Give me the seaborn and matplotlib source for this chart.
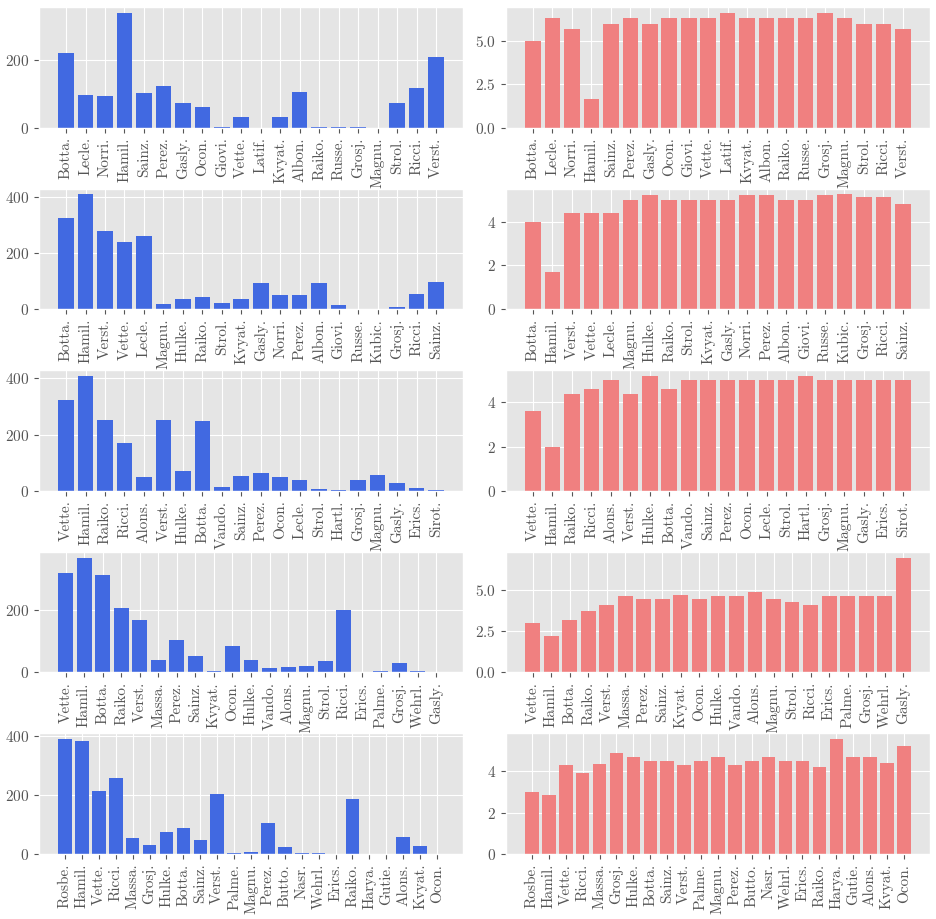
import matplotlib
matplotlib.use('Agg')
import matplotlib.pyplot as plt
import seaborn as sns

plt.style.use('ggplot')
plt.rcParams['font.family'] = ['cmr10', 'DejaVu Serif']
plt.rcParams['mathtext.fontset'] = 'cm'
plt.rcParams['axes.formatter.use_mathtext'] = True
plt.rcParams['font.size'] = 11

# season 1
drivers_1 = ['Botta.', 'Lecle.', 'Norri.', 'Hamil.', 'Sainz.', 'Perez.', 'Gasly.', 'Ocon.',
             'Giovi.', 'Vette.', 'Latif.', 'Kvyat.', 'Albon.', 'Raiko.', 'Russe.', 'Grosj.',
             'Magnu.', 'Strol.', 'Ricci.', 'Verst.']
points_1 = [222, 97, 94, 341, 103, 124, 73, 61, 3, 32, 0, 32, 106, 3, 3, 3, 0, 73, 118, 210]
grid_1 = [5.0, 6.33, 5.67, 1.67, 6.0, 6.33, 6.0, 6.33, 6.33, 6.33, 6.63, 6.33, 6.33, 6.33,
          6.33, 6.63, 6.33, 6.0, 6.0, 5.67]

# season 2
drivers_2 = ['Botta.', 'Hamil.', 'Verst.', 'Vette.', 'Lecle.', 'Magnu.', 'Hulke.', 'Raiko.',
             'Strol.', 'Kvyat.', 'Gasly.', 'Norri.', 'Perez.', 'Albon.', 'Giovi.', 'Russe.',
             'Kubic.', 'Grosj.', 'Ricci.', 'Sainz.']
points_2 = [323, 408, 277, 238, 259, 18, 35, 43, 21, 35, 92, 50, 50, 92, 14, 0, 0, 7, 53, 96]
grid_2 = [4.0, 1.69, 4.38, 4.38, 4.38, 5.0, 5.2, 5.0, 5.0, 5.0, 5.0, 5.2, 5.2, 5.0, 5.0,
          5.2, 5.25, 5.11, 5.11, 4.79]

# season 3
drivers_3 = ['Vette.', 'Hamil.', 'Raiko.', 'Ricci.', 'Alons.', 'Verst.', 'Hulke.', 'Botta.',
             'Vando.', 'Sainz.', 'Perez.', 'Ocon.', 'Lecle.', 'Strol.', 'Hartl.', 'Grosj.',
             'Magnu.', 'Gasly.', 'Erics.', 'Sirot.']
points_3 = [323, 408, 252, 170, 50, 252, 71, 248, 14, 53, 64, 50, 39, 7, 4, 39, 57, 28, 11, 4]
grid_3 = [3.6, 2.0, 4.4, 4.6, 5.0, 4.4, 5.2, 4.6, 5.0, 5.0, 5.0, 5.0, 5.0, 5.0, 5.2, 5.0,
          5.0, 5.0, 5.0, 5.0]

# season 4
drivers_4 = ['Vette.', 'Hamil.', 'Botta.', 'Raiko.', 'Verst.', 'Massa.', 'Perez.', 'Sainz.',
             'Kvyat.', 'Ocon.', 'Hulke.', 'Vando.', 'Alons.', 'Magnu.', 'Strol.', 'Ricci.',
             'Erics.', 'Palme.', 'Grosj.', 'Wehrl.', 'Gasly.']
points_4 = [319, 367, 310, 207, 169, 41, 102, 54, 3, 86, 41, 13, 16, 19, 38, 201, 0, 6, 29, 3, 0]
grid_4 = [3.0, 2.2, 3.17, 3.72, 4.09, 4.63, 4.45, 4.45, 4.7, 4.45, 4.63, 4.63, 4.88, 4.45,
          4.27, 4.09, 4.63, 4.63, 4.63, 4.63, 7.0]

# season 5
drivers_5 = ['Rosbe.', 'Hamil.', 'Vette.', 'Ricci.', 'Massa.', 'Grosj.', 'Hulke.', 'Botta.',
             'Sainz.', 'Verst.', 'Palme.', 'Magnu.', 'Perez.', 'Butto.', 'Nasr.', 'Wehrl.',
             'Erics.', 'Raiko.', 'Harya.', 'Gutie.', 'Alons.', 'Kvyat.', 'Ocon.']
points_5 = [389, 382, 215, 258, 54, 30, 74, 87, 47, 204, 3, 7, 104, 23, 3, 3, 0, 188, 0, 0,
            57, 27, 0]
grid_5 = [3.0, 2.87, 4.3, 3.92, 4.35, 4.88, 4.69, 4.49, 4.49, 4.3, 4.49, 4.69, 4.3, 4.49,
          4.69, 4.49, 4.49, 4.2, 5.55, 4.69, 4.69, 4.4, 5.21]

seasons = [
    (drivers_1, points_1, grid_1),
    (drivers_2, points_2, grid_2),
    (drivers_3, points_3, grid_3),
    (drivers_4, points_4, grid_4),
    (drivers_5, points_5, grid_5),
]

fig, axes = plt.subplots(5, 2, figsize=(9.37, 9.19), dpi=100)
fig.subplots_adjust(left=0.0416, right=0.9925, top=0.9924, bottom=0.0707,
                    wspace=0.101, hspace=0.506)


def draw(ax, names, values, color):
    sns.barplot(x=names, y=values, color=color, saturation=1, width=0.8, ax=ax)
    n = len(names)
    pad = (n - 1 + 0.8) * 0.05 + 0.4
    ax.set_xlim(-pad, n - 1 + pad)
    ax.xaxis.grid(True)
    ax.tick_params(axis='x', labelrotation=90)
    ax.set_xlabel('')
    ax.set_ylabel('')


for row, (names, pts, grd) in enumerate(seasons):
    draw(axes[row, 0], names, pts, 'royalblue')
    draw(axes[row, 1], names, grd, 'lightcoral')

plt.savefig('out.png', dpi=100)
